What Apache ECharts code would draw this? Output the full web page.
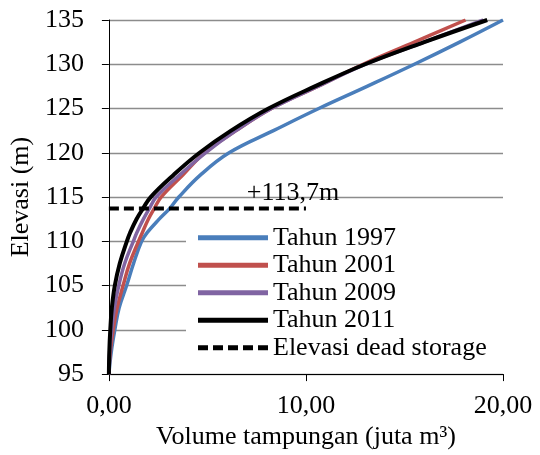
<!DOCTYPE html>
<html>
<head>
<meta charset="utf-8">
<script src="https://cdn.jsdelivr.net/npm/echarts@6/dist/echarts.min.js"></script>
<style>html,body{margin:0;padding:0;background:#fff}#c{width:540px;height:455px}</style>
</head>
<body>
<div id="c"></div>
<script>
const elevations = [95, 97.5, 100, 102.5, 105, 107.5, 110, 111, 112.5, 113.7, 115, 117.5, 120, 122.5, 125, 127.5, 130, 132.5, 135];
const vol1997 = [0, 0.12, 0.3, 0.52, 0.9, 1.25, 1.66, 1.95, 2.55, 3.08, 3.55, 4.65, 6.1, 8.35, 10.65, 13.1, 15.5, 17.8, 20.0];
const vol2001 = [0, 0.07, 0.22, 0.42, 0.72, 1.05, 1.5, 1.7, 2.0, 2.3, 2.65, 3.75, 4.85, 6.45, 8.25, 10.6, 12.9, 15.5, 18.1];
const vol2009 = [0, 0.04, 0.14, 0.28, 0.5, 0.8, 1.24, 1.42, 1.75, 2.05, 2.4, 3.6, 4.9, 6.45, 8.25, 10.6, 13.0, 16.0, 19.0];
const vol2011 = [0, 0.02, 0.07, 0.15, 0.3, 0.55, 0.91, 1.08, 1.4, 1.73, 2.12, 3.28, 4.6, 6.2, 8.1, 10.45, 13.0, 16.0, 19.2];
const deadStorageElev = 113.7;
const deadStorageVol = [0, 10];
const seriesNames = ['Tahun 1997', 'Tahun 2001', 'Tahun 2009', 'Tahun 2011', 'Elevasi dead storage'];
const deadLabel = '+113,7m';

const FONT = '"Liberation Serif", "Times New Roman", serif';
const FS = 26;
const pair = v => v.map((x, i) => [x, elevations[i]]);
function curve(name, vols, color, width) {
  return {
    name, type: 'line', data: pair(vols), symbol: 'none', smooth: 0.4,
    lineStyle: { color, width }, itemStyle: { color }
  };
}
const solidIcon = 'path://M0,0H70V5H0Z';
const dashIcon = 'path://M0,0H10V5H0Z M15,0H25V5H15Z M30,0H40V5H30Z M45,0H55V5H45Z M60,0H70V5H60Z';
const chart = echarts.init(document.getElementById('c'));
chart.setOption({
  animation: false,
  textStyle: { fontFamily: FONT, color: '#000' },
  grid: { left: 107, right: 37, top: 20, bottom: 80 },
  xAxis: {
    type: 'value', min: 0, max: 20, interval: 10,
    name: 'Volume tampungan (juta m³)', nameLocation: 'middle', nameGap: 49,
    nameTextStyle: { fontFamily: FONT, fontSize: FS, color: '#000' },
    axisLine: { show: true, lineStyle: { color: '#000', width: 1 } },
    axisTick: { show: true, length: 7, lineStyle: { color: '#000' } },
    axisLabel: { fontFamily: FONT, fontSize: FS, color: '#000', margin: 19, formatter: v => v.toFixed(2).replace('.', ',') },
    splitLine: { show: false }
  },
  yAxis: {
    type: 'value', min: 95, max: 135, interval: 5,
    name: 'Elevasi (m)', nameLocation: 'middle', nameGap: 67, nameRotate: 90,
    nameTextStyle: { fontFamily: FONT, fontSize: FS, color: '#000' },
    axisLine: { show: true, lineStyle: { color: '#000', width: 1 } },
    axisTick: { show: true, length: 7, lineStyle: { color: '#000' } },
    axisLabel: { fontFamily: FONT, fontSize: FS, color: '#000', margin: 25 },
    splitLine: { show: true, lineStyle: { color: '#8c8c8c', width: 1.3 } }
  },
  legend: {
    orient: 'vertical', left: 186, top: 218,
    backgroundColor: '#fff',
    padding: [6, 22, 8, 12],
    itemWidth: 70, itemHeight: 5, itemGap: 0,
    textStyle: { fontFamily: FONT, fontSize: FS, color: '#000', lineHeight: 27.5 },
    data: seriesNames.map((n, i) => ({ name: n, icon: i === 4 ? dashIcon : solidIcon }))
  },
  series: [
    curve(seriesNames[0], vol1997, '#4a7ebb', 3.5),
    curve(seriesNames[1], vol2001, '#c0504d', 3.5),
    curve(seriesNames[2], vol2009, '#8064a2', 3.5),
    curve(seriesNames[3], vol2011, '#000000', 4),
    {
      name: seriesNames[4], type: 'line', symbol: 'none',
      data: deadStorageVol.map(x => [x, deadStorageElev]),
      lineStyle: { color: '#000', width: 4, type: [10, 5] }, itemStyle: { color: '#000' },
      markPoint: {
        symbol: 'circle', symbolSize: 0, silent: true,
        data: [{ coord: [deadStorageVol[1], deadStorageElev] }],
        label: { show: true, formatter: deadLabel, position: 'inside', offset: [-13, -15], fontFamily: FONT, fontSize: FS, color: '#000' }
      }
    }
  ]
});
</script>
</body>
</html>
